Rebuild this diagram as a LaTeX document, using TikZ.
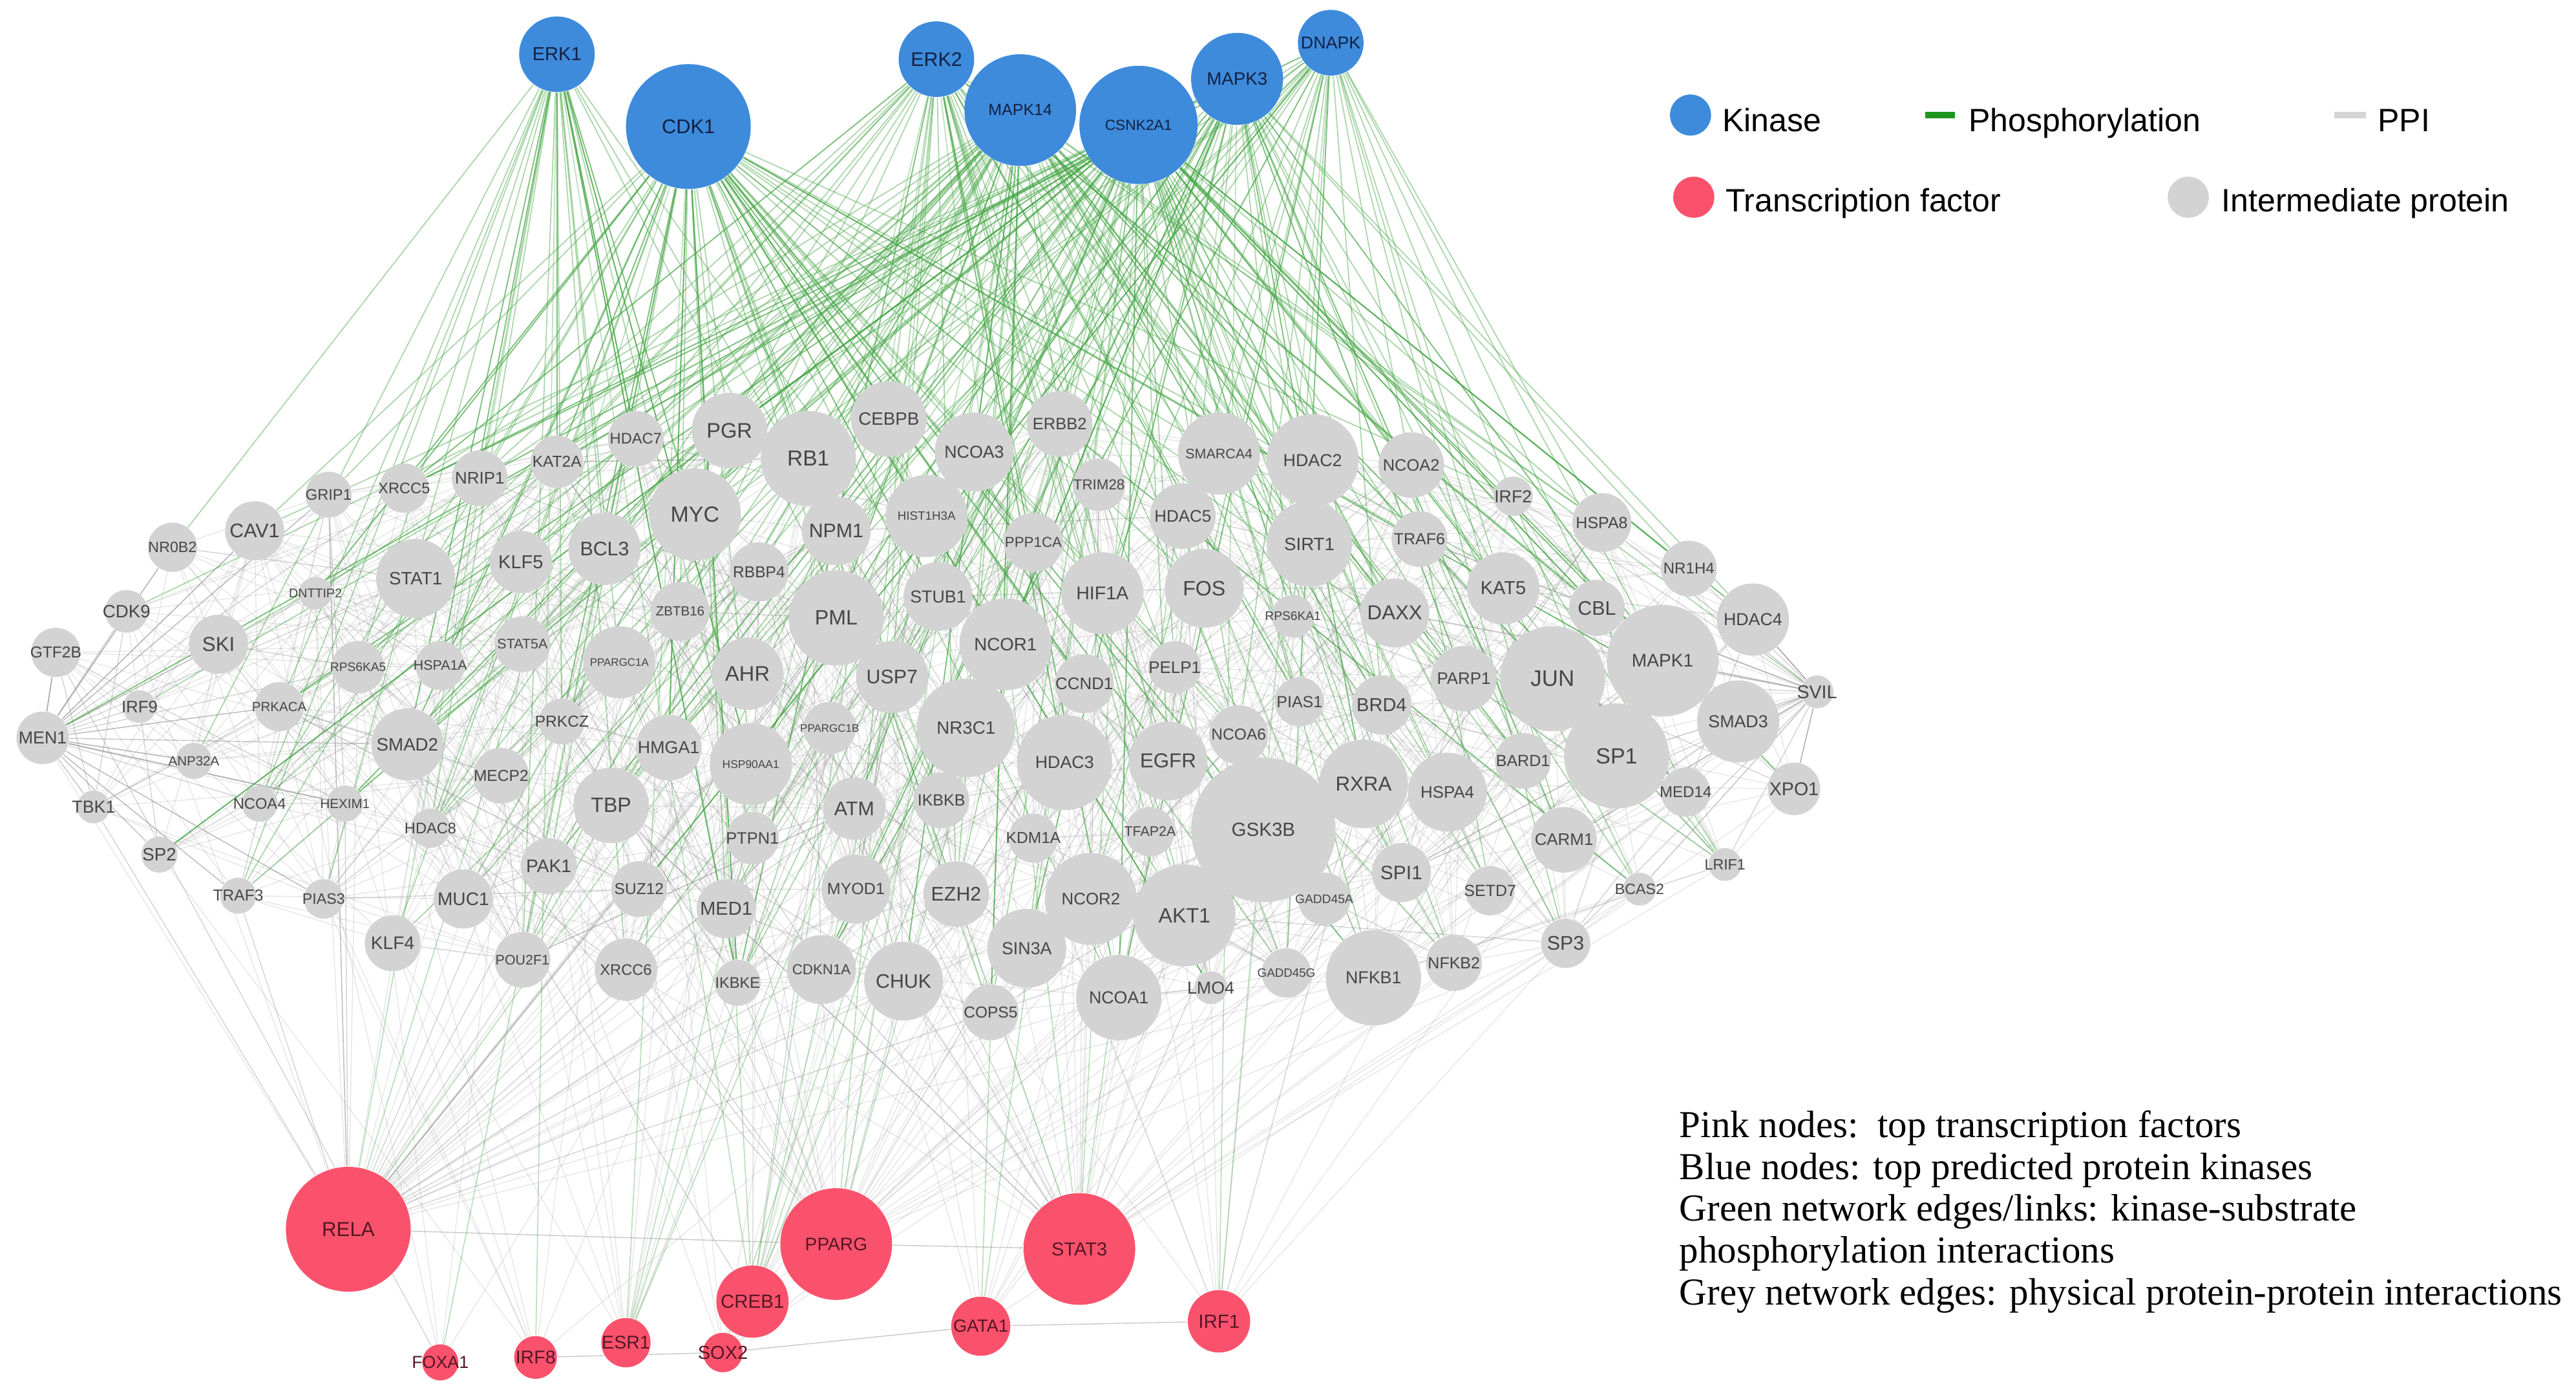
\documentclass[tikz,border=0pt]{standalone}
\usepackage{fontspec}
\setmainfont{Liberation Sans}
\newfontfamily\serifbody{Liberation Serif}
\usetikzlibrary{backgrounds}
\definecolor{kin}{RGB}{62,139,219}
\definecolor{tfc}{RGB}{250,82,108}
\definecolor{gnc}{RGB}{211,211,211}
\definecolor{phos}{RGB}{70,165,70}
\definecolor{ppic}{RGB}{160,160,160}
\definecolor{glab}{RGB}{70,70,70}
\definecolor{klab}{RGB}{18,32,66}
\definecolor{tlab}{RGB}{85,22,38}
\definecolor{legphos}{RGB}{30,150,30}
\definecolor{legppi}{RGB}{212,212,212}
\begin{document}
\begin{tikzpicture}[x=0.02cm,y=-0.02cm,
  gnode/.style={circle,fill=gnc,draw=none,inner sep=0pt,text=glab},
  knode/.style={circle,fill=kin,draw=none,inner sep=0pt,text=klab},
  tnode/.style={circle,fill=tfc,draw=none,inner sep=0pt,text=tlab},
  ppi/.style={draw=ppic,line width=0.3pt,opacity=0.27},
  phosl/.style={draw=phos,line width=0.4pt,opacity=0.45},
  legtext/.style={font=\fontsize{11.2}{13}\selectfont,anchor=base west,inner sep=0pt},
  captxt/.style={font=\serifbody\fontsize{13.2}{15}\selectfont,anchor=base west,inner sep=0pt}
]
\useasboundingbox (0,0) rectangle (1568,850);
% intermediate proteins (sorted by x)
\foreach \n/\x/\y/\r/\f [count=\i] in {
MEN1/26/449/16/6, GTF2B/34/397/15/5.5, TBK1/57/491/10/6, CDK9/77/372/13/6.2, IRF9/85/430/10/5.8,
SP2/97/520/11/6.2, NR0B2/105/333/15/5.2, ANP32A/118/463/11/4.6, SKI/133/392/18/7, TRAF3/145/545/11/5.5,
CAV1/155/323/18/6.8, NCOA4/158/489/11/5.3, PRKACA/170/430/15/4.6, DNTTIP2/192/361/10/4.4, PIAS3/197/547/12/5.2,
GRIP1/200/301/14/5.3, HEXIM1/210/489/11/4.6, RPS6KA5/218/406/16/4.3, KLF4/239/574/17/6.3, XRCC5/246/297/15/5.3,
SMAD2/248/453/22/6.2, STAT1/253/352/24/6.2, HDAC8/262/504/12/5.3, HSPA1A/268/405/15/4.8, MUC1/282/547/18/6.3,
NRIP1/292/291/17/5.8, MECP2/305/472/17/5.5, KLF5/317/342/19/6.5, POU2F1/318/584/17/4.8, STAT5A/318/392/17/4.8,
PAK1/334/527/17/6.3, KAT2A/339/281/16/5.5, PRKCZ/342/439/14/5.5, BCL3/368/334/22/6.8, TBP/372/490/23/7.2,
PPARGC1A/377/403/22/3.8, XRCC6/381/590/19/5.3, HDAC7/387/267/17/5.3, SUZ12/389/541/17/5.5, HMGA1/407/455/20/6,
ZBTB16/414/372/18/4.6, MYC/423/313/28/7.6, MED1/442/553/18/6.5, PGR/444/262/23/7.3, IKBKE/449/598/14/5.3,
AHR/455/410/22/7.3, HSP90AA1/457/465/25/3.9, PTPN1/458/510/16/5.7, RBBP4/462/348/18/5.5, RB1/492/279/29/7.5,
CDKN1A/500/590/21/5, PPARGC1B/505/443/16/3.8, NPM1/509/323/21/6.8, PML/509/376/29/7.2, ATM/520/492/19/6.8,
MYOD1/521/541/21/5.6, CEBPB/541/255/23/6.2, USP7/543/412/22/6.8, CHUK/550/597/24/6.8, HIST1H3A/564/314/25/4.2,
STUB1/571/363/21/6, IKBKB/573/487/17/5.6, EZH2/582/544/20/6.8, NR3C1/588/443/30/6.2, NCOA3/593/275/24/6,
COPS5/603/616/17/5.5, NCOR1/612/392/28/6.2, SIN3A/625/577/24/6, PPP1CA/629/330/18/5, KDM1A/629/510/15/5.5,
ERBB2/645/258/20/5.7, HDAC3/648/464/29/6, CCND1/660/416/18/5.8, NCOR2/664/547/28/5.8, TRIM28/669/295/16/5,
HIF1A/671/361/25/6.4, NCOA1/681/607/26/6, TFAP2A/700/506/15/4.8, EGFR/711/463/24/7, PELP1/715/406/16/5.8,
HDAC5/720/314/20/5.8, AKT1/721/557/31/7.2, FOS/733/358/24/7.2, LMO4/737/601/10/6, SMARCA4/742/276/25/4.8,
NCOA6/754/447/18/5.5, GSK3B/769/505/44/6.6, GADD45G/783/592/15/4.2, RPS6KA1/787/375/13/4.3, PIAS1/791/427/15/5.6,
SIRT1/797/331/26/6.2, HDAC2/799/280/28/6, GADD45A/806/547/16/4.3, RXRA/830/477/27/7, NFKB1/836/595/29/6,
BRD4/841/429/18/6.5, DAXX/849/373/21/7, SPI1/853/531/18/6.7, NCOA2/859/283/20/5.7, TRAF6/864/328/17/5.6,
HSPA4/881/482/24/5.8, NFKB2/885/586/17/5.6, PARP1/891/413/20/5.8, SETD7/907/542/15/5.6, KAT5/915/358/22/6.5,
IRF2/921/302/12/6, BARD1/927/463/17/5.6, JUN/945/413/32/7.8, CARM1/952/511/20/5.8, SP3/953/574/15/6.8,
CBL/972/370/17/6.8, HSPA8/975/318/18/5.6, SP1/984/460/32/7.6, BCAS2/998/541/10/5.2, MAPK1/1012/402/34/6.3,
MED14/1026/482/15/5.4, NR1H4/1028/346/17/5.4, LRIF1/1050/526/10/5.2, SMAD3/1058/439/25/6, HDAC4/1067/377/22/6,
XPO1/1092/480/16/6.4, SVIL/1106/421/10/6.4}{
  \pgfmathsetmacro\dd{0.04*\r}
  \node[gnode,minimum size=\dd cm,alias=g\i] (\n) at (\x,\y) {\makebox[0pt]{\fontsize{\f}{\f}\selectfont\n}};
}
% kinases
\foreach \n/\x/\y/\r/\f in {ERK1/339/33/23/6.5, CDK1/419/77/38/6.9, ERK2/570/36/23/6.8, MAPK14/621/67/34/5.6,
  CSNK2A1/693/76/36/5.1, MAPK3/753/48/28/6.2, DNAPK/810/26/20/6}{
  \pgfmathsetmacro\dd{0.04*\r}
  \node[knode,minimum size=\dd cm] (\n) at (\x,\y) {\makebox[0pt]{\fontsize{\f}{\f}\selectfont\n}};
}
% transcription factors
\foreach \n/\x/\y/\r/\f in {RELA/212/748/38/7, PPARG/509/757/34/6.3, STAT3/657/760/34/6.5, CREB1/458/792/22/6.6,
  GATA1/597/807/18/6.1, IRF1/742/804/19/6.6, ESR1/381/817/15/6.4, SOX2/440/823/12/6.5, IRF8/326/826/13/6.4,
  FOXA1/268/829/11/6}{
  \pgfmathsetmacro\dd{0.04*\r}
  \node[tnode,minimum size=\dd cm] (\n) at (\x,\y) {\makebox[0pt]{\fontsize{\f}{\f}\selectfont\n}};
}
\begin{pgfonlayer}{background}
\pgfmathsetseed{4242}
% PPI edges among intermediate proteins
\foreach \k in {1,...,1200}{
  \pgfmathrandominteger{\ia}{1}{122}
  \pgfmathrandominteger{\dv}{-28}{28}
  \pgfmathtruncatemacro{\ib}{max(1,min(122,\ia+\dv))}
  \ifnum\ia=\ib\else\draw[ppi] (g\ia) -- (g\ib);\fi
}
% PPI edges from transcription factors
\foreach \t/\lo/\hi/\cnt in {RELA/1/100/60, PPARG/20/110/40, STAT3/30/122/40, CREB1/20/100/14, GATA1/30/110/10,
  IRF1/60/122/12, ESR1/10/90/12, SOX2/20/100/8, IRF8/1/80/8, FOXA1/1/60/6}{
  \foreach \k in {1,...,\cnt}{
    \pgfmathrandominteger{\ia}{\lo}{\hi}
    \draw[ppi] (\t) -- (g\ia);
  }
}
\draw[ppi,opacity=0.6] (RELA) -- (PPARG);
\draw[ppi,opacity=0.6] (PPARG) -- (STAT3);
\draw[ppi,opacity=0.6] (IRF8) -- (SOX2);
\draw[ppi,opacity=0.6] (SOX2) -- (GATA1);
\draw[ppi,opacity=0.6] (GATA1) -- (IRF1);
% phosphorylation edges
\foreach \t/\lo/\hi/\cnt in {ERK1/5/62/35, CDK1/10/122/70, ERK2/15/115/40, MAPK14/10/122/60,
  CSNK2A1/1/122/80, MAPK3/20/122/45, DNAPK/10/122/35}{
  \foreach \k in {1,...,\cnt}{
    \pgfmathrandominteger{\ia}{\lo}{\hi}
    \draw[phosl] (\t) -- (g\ia);
  }
}
\foreach \s/\t in {CDK1/ESR1, CSNK2A1/ESR1, MAPK14/ESR1, ERK2/ESR1, CDK1/CREB1, MAPK14/CREB1,
  CSNK2A1/CREB1, MAPK3/CREB1, ERK1/CREB1, ERK2/CREB1, CSNK2A1/GATA1, MAPK14/GATA1, CDK1/STAT3,
  MAPK3/STAT3, ERK2/STAT3, CSNK2A1/STAT3, DNAPK/IRF1, MAPK3/IRF1, CSNK2A1/PPARG, MAPK14/PPARG,
  ERK2/PPARG, CDK1/RELA, CSNK2A1/RELA, ERK1/RELA, CDK1/FOXA1, CSNK2A1/SOX2, ERK1/IRF8}{
  \draw[phosl,opacity=0.35] (\s) -- (\t);
}
\end{pgfonlayer}
% legend
\node[circle,fill=kin,minimum size=0.5cm,inner sep=0pt] (lk) at (1029,70) {};
\node[legtext] (lkt) at (1048,80) {Kinase};
\coordinate (lp1) at (1172,70);
\coordinate (lp2) at (1190,70);
\draw[legphos,line width=2.2pt] (lp1) -- (lp2);
\node[legtext] (lpt) at (1198,80) {Phosphorylation};
\coordinate (lq1) at (1421,70);
\coordinate (lq2) at (1440,70);
\draw[legppi,line width=2.2pt] (lq1) -- (lq2);
\node[legtext] (lqt) at (1447,80) {PPI};
\node[circle,fill=tfc,minimum size=0.5cm,inner sep=0pt] (lt) at (1031,120) {};
\node[legtext] (ltt) at (1050,129) {Transcription factor};
\node[circle,fill=gnc,minimum size=0.5cm,inner sep=0pt] (lg) at (1332,120) {};
\node[legtext] (lgt) at (1352,129) {Intermediate protein};
% caption
\node[captxt] (c1) at (1022,692) {Pink nodes:\ \ top transcription factors};
\node[captxt] (c2) at (1022,717.5) {Blue nodes: top predicted protein kinases};
\node[captxt] (c3) at (1022,743) {Green network edges/links: kinase-substrate};
\node[captxt] (c4) at (1022,768.5) {phosphorylation interactions};
\node[captxt] (c5) at (1022,794) {Grey network edges: physical protein-protein interactions};
\end{tikzpicture}
\end{document}
